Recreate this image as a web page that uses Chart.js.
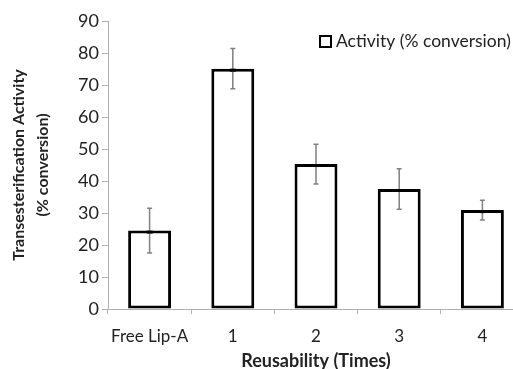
<!DOCTYPE html>
<html>
<head>
<meta charset="utf-8">
<script src="https://cdn.jsdelivr.net/npm/chart.js@4"></script>
<style>
html,body{margin:0;padding:0;background:#fff;overflow:hidden;}
#wrap{position:relative;width:524px;height:369px;}
</style>
</head>
<body>
<div id="wrap"><canvas id="c"></canvas></div>
<script>
const categories = ['Free Lip-A', '1', '2', '3', '4'];
const activity = [24.5, 75.1, 45.3, 37.5, 30.9];
const activityError = [7.0, 6.3, 6.2, 6.3, 3.1];
const seriesLabel = 'Activity (% conversion)';
const yTitle = ['Transesterification Activity', '(% conversion)'];
const xTitle = 'Reusability (Times)';

const FONT = 'Lato, "Open Sans", sans-serif';
const TXT = '#222222';
const AXIS = '#b0b0b0';
const BW = 3;

const errorBars = {
  id: 'errorBars',
  afterDatasetsDraw(chart) {
    const ctx = chart.ctx;
    const y = chart.scales.y;
    const meta = chart.getDatasetMeta(0);
    ctx.save();
    ctx.strokeStyle = '#808080';
    ctx.lineWidth = 1.5;
    meta.data.forEach((bar, i) => {
      const x = bar.x;
      const top = y.getPixelForValue(activity[i] + activityError[i]);
      const bot = y.getPixelForValue(activity[i] - activityError[i]);
      ctx.beginPath();
      ctx.moveTo(x, top); ctx.lineTo(x, bot);
      ctx.moveTo(x - 2.5, top); ctx.lineTo(x + 2.5, top);
      ctx.moveTo(x - 2.5, bot); ctx.lineTo(x + 2.5, bot);
      ctx.stroke();
    });
    ctx.strokeStyle = '#000000';
    ctx.lineWidth = BW;
    meta.data.forEach((bar) => {
      ctx.beginPath();
      ctx.moveTo(bar.x - 3, bar.y + BW / 2);
      ctx.lineTo(bar.x + 3, bar.y + BW / 2);
      ctx.stroke();
    });
    ctx.restore();
  }
};

const customLegend = {
  id: 'customLegend',
  afterDraw(chart) {
    const ctx = chart.ctx;
    ctx.save();
    ctx.fillStyle = '#ffffff';
    ctx.strokeStyle = '#000000';
    ctx.lineWidth = 2;
    ctx.fillRect(320, 36, 11, 11);
    ctx.strokeRect(320, 36, 11, 11);
    ctx.fillStyle = TXT;
    ctx.font = '17.5px ' + FONT;
    ctx.textBaseline = 'middle';
    ctx.textAlign = 'left';
    ctx.fillText(chart.data.datasets[0].label, 336, 41.5);
    ctx.restore();
  }
};

new Chart(document.getElementById('c'), {
  type: 'bar',
  data: {
    labels: categories,
    datasets: [{
      label: seriesLabel,
      data: activity,
      backgroundColor: '#ffffff',
      borderColor: '#000000',
      borderWidth: BW,
      borderSkipped: false,
      barPercentage: 0.516,
      categoryPercentage: 1.0
    }]
  },
  options: {
    responsive: true,
    maintainAspectRatio: false,
    animation: false,
    layout: { padding: { top: 21, right: 0, left: 0, bottom: 0 } },
    plugins: {
      legend: { display: false },
      tooltip: { enabled: false }
    },
    scales: {
      x: {
        grid: { display: true, drawOnChartArea: false, offset: true, tickLength: 5, color: AXIS },
        border: { color: AXIS, width: 1 },
        ticks: { font: { family: FONT, size: 17 }, color: TXT, padding: 12 },
        title: { display: true, text: xTitle, font: { family: FONT, size: 18, weight: 'bold', lineHeight: 0.9 }, color: TXT, padding: { top: 0, bottom: 0 } },
        afterFit(s) { s.height = 60; }
      },
      y: {
        min: 0, max: 90,
        grid: { display: true, drawOnChartArea: false, tickLength: 6, color: AXIS },
        border: { color: AXIS, width: 1 },
        ticks: { stepSize: 10, font: { family: FONT, size: 18 }, color: TXT, padding: 3 },
        title: { display: true, text: yTitle, font: { family: FONT, size: 16, weight: 'bold', lineHeight: 1.5 }, color: TXT, padding: { top: 7, bottom: 0 } },
        afterFit(s) { s.width = 108; }
      }
    }
  },
  plugins: [errorBars, customLegend]
});
</script>
</body>
</html>
